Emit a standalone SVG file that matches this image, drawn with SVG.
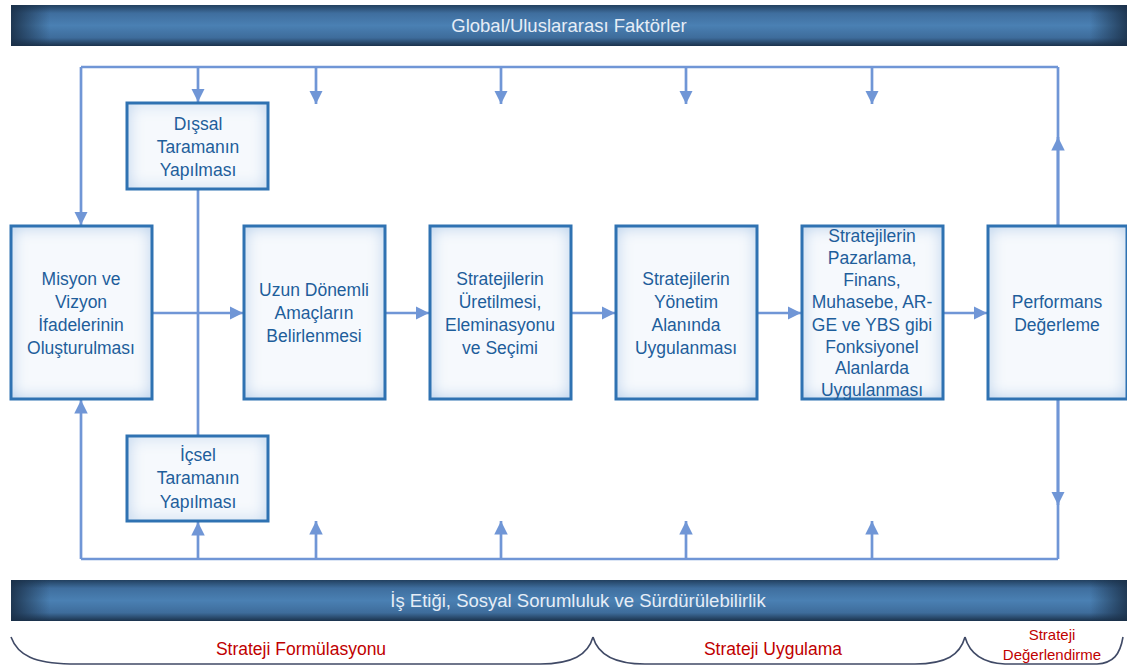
<svg xmlns="http://www.w3.org/2000/svg" width="1127" height="669" viewBox="0 0 1127 669">
  <defs>
    <linearGradient id="barV" x1="0" y1="0" x2="0" y2="1">
      <stop offset="0" stop-color="#22405F"/>
      <stop offset="0.2" stop-color="#3F6E9E"/>
      <stop offset="0.5" stop-color="#4A80B3"/>
      <stop offset="0.8" stop-color="#3E6C9B"/>
      <stop offset="1" stop-color="#1B324C"/>
    </linearGradient>
    <linearGradient id="barH" x1="0" y1="0" x2="1" y2="0">
      <stop offset="0" stop-color="#1A2F47" stop-opacity="0.9"/>
      <stop offset="0.035" stop-color="#1A2F47" stop-opacity="0"/>
      <stop offset="0.965" stop-color="#1A2F47" stop-opacity="0"/>
      <stop offset="1" stop-color="#1A2F47" stop-opacity="0.9"/>
    </linearGradient>
    <filter id="innerGlow" x="-5%" y="-5%" width="110%" height="110%">
      <feFlood flood-color="#86B6E2" result="c"/>
      <feComposite in="c" in2="SourceAlpha" operator="out" result="outside"/>
      <feGaussianBlur in="outside" stdDeviation="8" result="blur"/>
      <feComposite in="blur" in2="SourceAlpha" operator="in" result="glow"/>
      <feMerge>
        <feMergeNode in="SourceGraphic"/>
        <feMergeNode in="glow"/>
      </feMerge>
    </filter>
    <marker id="arrow" viewBox="0 0 10 10" refX="10" refY="5" markerWidth="5" markerHeight="5" markerUnits="strokeWidth" orient="auto">
      <path d="M0,0 L10,5 L0,10 Z" fill="#7096D6"/>
    </marker>
    <style>
      .bar-text { font-family: "Liberation Sans", Arial, sans-serif; font-size: 18.5px; fill: #E6EDF6; text-anchor: middle; }
      .box-bg { fill: #F6F9FD; filter: url(#innerGlow); }
      .box-border { fill: none; stroke: #2F72B2; stroke-width: 3; }
      .box-text { font-family: "Liberation Sans", Arial, sans-serif; font-size: 17.5px; fill: #1E5E9B; text-anchor: middle; }
      .conn { fill: none; stroke: #7096D6; stroke-width: 2.7; }
      .arr { marker-end: url(#arrow); }
      .brace { fill: none; stroke: #404A66; stroke-width: 1.6; }
      .phase { font-family: "Liberation Sans", Arial, sans-serif; font-size: 17.5px; fill: #C00000; text-anchor: middle; }
      .phase-small { font-size: 15px; }
    </style>
  </defs>

  <rect width="1127" height="669" fill="#FFFFFF"/>

  <!-- top band -->
  <g id="global-factors">
    <rect x="11" y="5" width="1118" height="41" fill="url(#barV)"/>
    <rect x="11" y="5" width="1118" height="41" fill="url(#barH)"/>
    <text class="bar-text" x="569" y="32">Global/Uluslararası Faktörler</text>
  </g>

  <!-- connectors -->
  <g id="connectors">
    <!-- top feedback loop -->
    <path class="conn" d="M81,67 L1058,67"/>
    <path class="conn arr" d="M81,67 L81,225"/>
    <path class="conn arr" d="M198,67 L198,102"/>
    <path class="conn arr" d="M316,67 L316,104"/>
    <path class="conn arr" d="M501,67 L501,104"/>
    <path class="conn arr" d="M686,67 L686,104"/>
    <path class="conn arr" d="M872,67 L872,104"/>
    <path class="conn" d="M1058,67 L1058,226"/>
    <path class="conn arr" d="M1058,226 L1058,137"/>
    <!-- scanning link -->
    <path class="conn" d="M198,189 L198,436"/>
    <!-- main flow -->
    <path class="conn arr" d="M152,313 L243,313"/>
    <path class="conn arr" d="M385,313 L429,313"/>
    <path class="conn arr" d="M571,313 L615,313"/>
    <path class="conn arr" d="M757,313 L801,313"/>
    <path class="conn arr" d="M943,313 L987,313"/>
    <!-- bottom feedback loop -->
    <path class="conn" d="M81,559 L1058,559"/>
    <path class="conn arr" d="M81,559 L81,400"/>
    <path class="conn arr" d="M198,559 L198,522"/>
    <path class="conn arr" d="M316,559 L316,521"/>
    <path class="conn arr" d="M501,559 L501,521"/>
    <path class="conn arr" d="M686,559 L686,521"/>
    <path class="conn arr" d="M872,559 L872,521"/>
    <path class="conn" d="M1058,399 L1058,559"/>
    <path class="conn arr" d="M1058,399 L1058,505"/>
  </g>

  <g id="dissal-tarama">
    <rect class="box-bg" x="127" y="103" width="141" height="86"/>
    <rect class="box-border" x="127" y="103" width="141" height="86"/>
    <text class="box-text" x="198" y="130">Dışsal</text>
    <text class="box-text" x="198" y="153">Taramanın</text>
    <text class="box-text" x="198" y="176">Yapılması</text>
  </g>

  <g id="icsel-tarama">
    <rect class="box-bg" x="127" y="436" width="141" height="85"/>
    <rect class="box-border" x="127" y="436" width="141" height="85"/>
    <text class="box-text" x="198" y="461">İçsel</text>
    <text class="box-text" x="198" y="484">Taramanın</text>
    <text class="box-text" x="198" y="508">Yapılması</text>
  </g>

  <g id="misyon-vizyon">
    <rect class="box-bg" x="11" y="226" width="141" height="173"/>
    <rect class="box-border" x="11" y="226" width="141" height="173"/>
    <text class="box-text" x="81" y="285">Misyon ve</text>
    <text class="box-text" x="81" y="308">Vizyon</text>
    <text class="box-text" x="81" y="331">İfadelerinin</text>
    <text class="box-text" x="81" y="354">Oluşturulması</text>
  </g>

  <g id="uzun-donemli-amaclar">
    <rect class="box-bg" x="244" y="226" width="141" height="173"/>
    <rect class="box-border" x="244" y="226" width="141" height="173"/>
    <text class="box-text" x="314" y="296">Uzun Dönemli</text>
    <text class="box-text" x="314" y="319">Amaçların</text>
    <text class="box-text" x="314" y="342">Belirlenmesi</text>
  </g>

  <g id="strateji-uretimi">
    <rect class="box-bg" x="430" y="226" width="141" height="173"/>
    <rect class="box-border" x="430" y="226" width="141" height="173"/>
    <text class="box-text" x="500" y="285">Stratejilerin</text>
    <text class="box-text" x="500" y="308">Üretilmesi,</text>
    <text class="box-text" x="500" y="331">Eleminasyonu</text>
    <text class="box-text" x="500" y="354">ve Seçimi</text>
  </g>

  <g id="yonetim-alani">
    <rect class="box-bg" x="616" y="226" width="141" height="173"/>
    <rect class="box-border" x="616" y="226" width="141" height="173"/>
    <text class="box-text" x="686" y="285">Stratejilerin</text>
    <text class="box-text" x="686" y="308">Yönetim</text>
    <text class="box-text" x="686" y="331">Alanında</text>
    <text class="box-text" x="686" y="354">Uygulanması</text>
  </g>

  <g id="fonksiyonel-alanlar">
    <rect class="box-bg" x="802" y="226" width="141" height="173"/>
    <rect class="box-border" x="802" y="226" width="141" height="173"/>
    <text class="box-text" x="872" y="242">Stratejilerin</text>
    <text class="box-text" x="872" y="264">Pazarlama,</text>
    <text class="box-text" x="872" y="286">Finans,</text>
    <text class="box-text" x="872" y="308">Muhasebe, AR-</text>
    <text class="box-text" x="872" y="331">GE ve YBS gibi</text>
    <text class="box-text" x="872" y="353">Fonksiyonel</text>
    <text class="box-text" x="872" y="374">Alanlarda</text>
    <text class="box-text" x="872" y="396">Uygulanması</text>
  </g>

  <g id="performans-degerleme">
    <rect class="box-bg" x="988" y="226" width="139" height="173"/>
    <rect class="box-border" x="988" y="226" width="139" height="173"/>
    <text class="box-text" x="1057" y="308">Performans</text>
    <text class="box-text" x="1057" y="331">Değerleme</text>
  </g>

  <!-- bottom band -->
  <g id="etik-sorumluluk">
    <rect x="11" y="580" width="1118" height="41" fill="url(#barV)"/>
    <rect x="11" y="580" width="1118" height="41" fill="url(#barH)"/>
    <text class="bar-text" x="578" y="607">İş Etiği, Sosyal Sorumluluk ve Sürdürülebilirlik</text>
  </g>

  <!-- phase braces -->
  <g id="phases">
    <path class="brace" d="M11,637 C18,656 35,663 70,664 L540,664 C572,664 588,655 593,637"/>
    <path class="brace" d="M593,637 C598,655 614,664 645,664 L915,664 C946,664 960,655 965,637"/>
    <path class="brace" d="M965,637 C970,655 984,663 1005,664 L1097,664 C1113,663 1120,655 1123,637"/>
    <text class="phase" x="301" y="655">Strateji Formülasyonu</text>
    <text class="phase" x="773" y="655">Strateji Uygulama</text>
    <text class="phase phase-small" x="1052" y="640">Strateji</text>
    <text class="phase phase-small" x="1052" y="660">Değerlendirme</text>
  </g>
</svg>
